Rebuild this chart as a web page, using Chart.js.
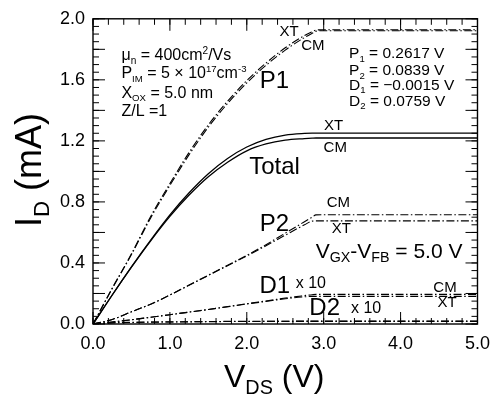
<!DOCTYPE html>
<html>
<head>
<meta charset="utf-8">
<script src="https://cdn.jsdelivr.net/npm/chart.js@4.4.0/dist/chart.umd.min.js"></script>
<style>
  html, body { margin: 0; padding: 0; background: #fff; }
  #wrap { width: 499px; height: 397px; }
</style>
</head>
<body>
<div id="wrap"><canvas id="ivChart" width="499" height="397"></canvas></div>
<script>
// drain voltage (V) and drain currents (mA)
var vds   = [0, 0.25, 0.5, 0.75, 1.0, 1.25, 1.5, 1.75, 2.0, 2.25, 2.5, 2.75, 2.85, 2.9, 3.0, 4.0, 5.0];
var p1XT  = [0, 0.235, 0.46, 0.705, 0.92, 1.125, 1.305, 1.46, 1.595, 1.71, 1.81, 1.89, 1.915, 1.926, 1.928, 1.928, 1.928];
var p1CM  = [0, 0.232, 0.455, 0.695, 0.908, 1.11, 1.29, 1.445, 1.58, 1.695, 1.795, 1.877, 1.905, 1.918, 1.922, 1.922, 1.922];
var totXT = [0, 0.19, 0.375, 0.55, 0.715, 0.86, 0.985, 1.085, 1.16, 1.21, 1.238, 1.249, 1.251, 1.251, 1.251, 1.251, 1.251];
var totCM = [0, 0.19, 0.372, 0.545, 0.705, 0.845, 0.965, 1.06, 1.135, 1.18, 1.205, 1.215, 1.218, 1.219, 1.219, 1.219, 1.219];
var p2CM  = [0, 0.03, 0.08, 0.13, 0.19, 0.255, 0.32, 0.385, 0.45, 0.52, 0.595, 0.67, 0.70, 0.715, 0.716, 0.716, 0.716];
var p2XT  = [0, 0.03, 0.08, 0.13, 0.19, 0.254, 0.318, 0.382, 0.446, 0.513, 0.582, 0.65, 0.674, 0.676, 0.676, 0.676, 0.676];
var d1CM  = [0, 0.013, 0.028, 0.044, 0.061, 0.078, 0.095, 0.114, 0.133, 0.151, 0.17, 0.186, 0.192, 0.194, 0.194, 0.194, 0.194];
var d1XT  = [0, 0.013, 0.028, 0.044, 0.061, 0.078, 0.095, 0.113, 0.131, 0.148, 0.165, 0.178, 0.181, 0.181, 0.181, 0.181, 0.181];
var d2CM  = [0, 0.008, 0.011, 0.013, 0.014, 0.015, 0.016, 0.017, 0.017, 0.018, 0.018, 0.019, 0.019, 0.019, 0.019, 0.019, 0.019];
var d2XT  = [0, 0.007, 0.010, 0.012, 0.013, 0.014, 0.015, 0.016, 0.016, 0.017, 0.017, 0.017, 0.017, 0.017, 0.017, 0.017, 0.017];

var FONT = "'Liberation Sans', Arial, sans-serif";
var dashDot = [8, 2.5, 1.5, 2.5];

function pts(ys) {
    return vds.map(function (v, i) { return { x: v, y: ys[i] }; });
}

function curve(ys, dash, width) {
    return {
        data: pts(ys),
        borderColor: '#000',
        borderWidth: width || 1.1,
        borderDash: dash || [],
        pointRadius: 0,
        fill: false,
        cubicInterpolationMode: 'monotone'
    };
}

// text with sub/superscripts: parts = [[text, 'n'|'b'|'p'], ...]
function richText(ctx, parts, x, y, size, align, ratio) {
    var small = size * (ratio || 0.68);
    var total = 0;
    parts.forEach(function (p) {
        ctx.font = (p[1] === 'n' ? size : small) + 'px ' + FONT;
        total += ctx.measureText(p[0]).width;
    });
    var cx = align === 'left' ? x : x - total / 2;
    ctx.textAlign = 'left';
    ctx.textBaseline = 'alphabetic';
    parts.forEach(function (p) {
        var dy = 0;
        if (p[1] === 'b') dy = size * 0.22;
        if (p[1] === 'p') dy = -size * 0.4;
        ctx.font = (p[1] === 'n' ? size : small) + 'px ' + FONT;
        ctx.fillText(p[0], cx, y + dy);
        cx += ctx.measureText(p[0]).width;
    });
}

var notes = [
    { v: 2.55, i: 1.885, s: 15, t: [['XT', 'n']] },
    { v: 2.86, i: 1.795, s: 15, t: [['CM', 'n']] },
    { v: 2.36, i: 1.548, s: 24, t: [['P1', 'n']] },
    { v: 3.13, i: 1.27, s: 15, t: [['XT', 'n']] },
    { v: 3.15, i: 1.125, s: 15, t: [['CM', 'n']] },
    { v: 2.36, i: 0.985, s: 24, t: [['Total', 'n']] },
    { v: 3.19, i: 0.764, s: 15, t: [['CM', 'n']] },
    { v: 2.36, i: 0.608, s: 24, t: [['P2', 'n']] },
    { v: 3.23, i: 0.595, s: 15, t: [['XT', 'n']] },
    { v: 3.85, i: 0.434, s: 21, t: [['V', 'n'], ['GX', 'b'], ['-V', 'n'], ['FB', 'b'], [' = 5.0 V', 'n']] },
    { v: 2.365, i: 0.2, s: 24, t: [['D1', 'n']] },
    { v: 2.833, i: 0.233, s: 16, t: [['x 10', 'n']] },
    { v: 4.577, i: 0.21, s: 15, t: [['CM', 'n']] },
    { v: 4.603, i: 0.11, s: 15, t: [['XT', 'n']] },
    { v: 3.013, i: 0.058, s: 24, t: [['D2', 'n']] },
    { v: 3.551, i: 0.071, s: 16, t: [['x 10', 'n']] },
    { v: 0.37, i: 1.728, s: 16, r: 0.63, a: 'left', t: [['\u03bc', 'n'], ['n', 'b'], [' = 400cm', 'n'], ['2', 'p'], ['/Vs', 'n']] },
    { v: 0.37, i: 1.612, s: 16, r: 0.6, a: 'left', t: [['P', 'n'], ['IM', 'b'], [' = 5 \u00d7 10', 'n'], ['17', 'p'], ['cm', 'n'], ['-3', 'p']] },
    { v: 0.37, i: 1.482, s: 16, r: 0.6, a: 'left', t: [['X', 'n'], ['OX', 'b'], [' = 5.0 nm', 'n']] },
    { v: 0.37, i: 1.366, s: 16, r: 0.6, a: 'left', t: [['Z/L =1', 'n']] },
    { v: 3.33, i: 1.741, s: 15.5, r: 0.62, a: 'left', t: [['P', 'n'], ['1', 'b'], [' = 0.2617 V', 'n']] },
    { v: 3.33, i: 1.631, s: 15.5, r: 0.62, a: 'left', t: [['P', 'n'], ['2', 'b'], [' = 0.0839 V', 'n']] },
    { v: 3.33, i: 1.534, s: 15.5, r: 0.62, a: 'left', t: [['D', 'n'], ['1', 'b'], [' = \u22120.0015 V', 'n']] },
    { v: 3.33, i: 1.43, s: 15.5, r: 0.62, a: 'left', t: [['D', 'n'], ['2', 'b'], [' = 0.0759 V', 'n']] }
];

function drawTicks(ctx, scale, step, len, horizontal, a) {
    var n = Math.round((scale.max - scale.min) / step);
    for (var k = 0; k <= n; k++) {
        var p = scale.getPixelForValue(scale.min + k * step);
        ctx.beginPath();
        if (horizontal) {
            ctx.moveTo(p, a.bottom); ctx.lineTo(p, a.bottom - len);
            ctx.moveTo(p, a.top); ctx.lineTo(p, a.top + len);
        } else {
            ctx.moveTo(a.left, p); ctx.lineTo(a.left + len, p);
            ctx.moveTo(a.right, p); ctx.lineTo(a.right - len, p);
        }
        ctx.stroke();
    }
}

var framePlugin = {
    id: 'frame',
    afterDraw: function (chart) {
        var ctx = chart.ctx, a = chart.chartArea;
        var xs = chart.scales.x, ys = chart.scales.y;
        ctx.save();
        ctx.strokeStyle = '#000';
        ctx.lineWidth = 1.4;
        ctx.strokeRect(a.left, a.top, a.right - a.left, a.bottom - a.top);
        ctx.lineWidth = 1;
        drawTicks(ctx, xs, 0.2, 6, true, a);
        drawTicks(ctx, xs, 1.0, 12, true, a);
        drawTicks(ctx, ys, 0.05, 6, false, a);
        drawTicks(ctx, ys, 0.2, 12, false, a);

        ctx.fillStyle = '#000';
        notes.forEach(function (n) {
            richText(ctx, n.t, xs.getPixelForValue(n.v), ys.getPixelForValue(n.i), n.s, n.a || 'center', n.r);
        });

        // axis titles
        richText(ctx, [['V', 'n'], ['DS', 'b'], [' (V)', 'n']], (a.left + a.right) / 2 - 11, 387, 32, 'center', 0.62);
        ctx.save();
        ctx.translate(41, 170);
        ctx.rotate(-Math.PI / 2);
        richText(ctx, [['I', 'n'], ['D', 'b'], [' (mA)', 'n']], 0, 0, 36, 'center', 0.62);
        ctx.restore();
        ctx.restore();
    }
};

document.addEventListener('DOMContentLoaded', function () {
    var canvas = document.getElementById('ivChart');
    new Chart(canvas, {
        type: 'line',
        data: {
            datasets: [
                curve(p1XT, dashDot), curve(p1CM, dashDot),
                curve(totXT, [], 1.3), curve(totCM, [], 1.3),
                curve(p2CM, dashDot), curve(p2XT, dashDot),
                curve(d1CM, dashDot), curve(d1XT, dashDot),
                curve(d2CM, dashDot), curve(d2XT, dashDot)
            ]
        },
        options: {
            responsive: false,
            animation: false,
            layout: { padding: { top: 15, right: 16, left: 0, bottom: 0 } },
            plugins: { legend: { display: false }, tooltip: { enabled: false } },
            scales: {
                x: {
                    type: 'linear', min: 0, max: 5,
                    grid: { display: false, drawTicks: false },
                    border: { display: false },
                    ticks: {
                        stepSize: 1, padding: 9, color: '#000', maxRotation: 0,
                        font: { family: FONT, size: 18 },
                        callback: function (v) { return v.toFixed(1); }
                    },
                    afterFit: function (s) { s.height = 73; }
                },
                y: {
                    type: 'linear', min: 0, max: 2,
                    grid: { display: false, drawTicks: false },
                    border: { display: false },
                    ticks: {
                        stepSize: 0.4, padding: 8, color: '#000',
                        font: { family: FONT, size: 18 },
                        callback: function (v) { return v.toFixed(1); }
                    },
                    afterFit: function (s) { s.width = 93; }
                }
            }
        },
        plugins: [framePlugin]
    });
});
</script>
</body>
</html>
